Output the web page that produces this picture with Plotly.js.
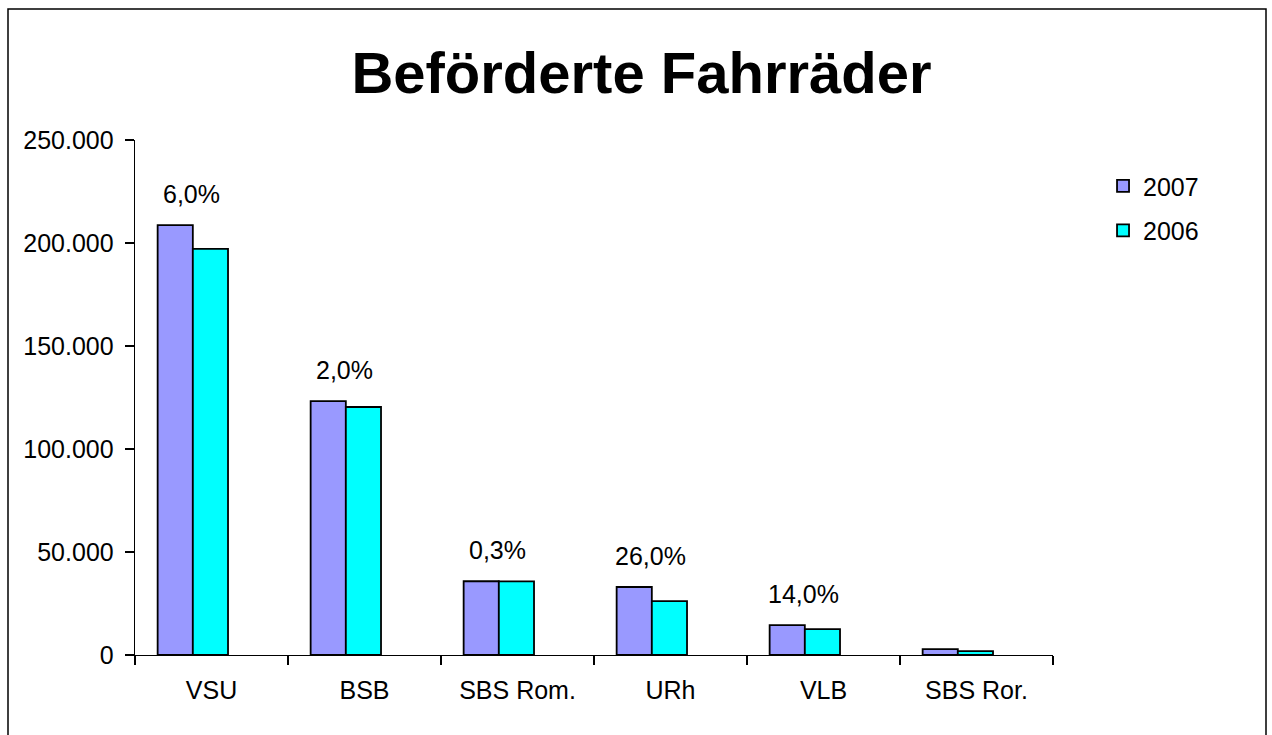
<!DOCTYPE html>
<html>
<head>
<meta charset="utf-8">
<script src="https://cdn.plot.ly/plotly-3.0.1.min.js"></script>
<style>
  html, body { margin: 0; padding: 0; background: #ffffff; }
  #chart { width: 1272px; height: 735px; }
</style>
</head>
<body>
<div id="chart"></div>
<script>
const categories = ["VSU", "BSB", "SBS Rom.", "URh", "VLB", "SBS Ror."];
const values2007 = [208700, 123200, 35800, 33000, 14500, 2900];
const values2006 = [197100, 120400, 35700, 26200, 12600, 1900];
const changeLabels = ["6,0%", "2,0%", "0,3%", "26,0%", "14,0%", null];
const yTickVals = [0, 50000, 100000, 150000, 200000, 250000];

const font = "Liberation Sans, Arial, sans-serif";

const traces = [
  {
    type: "bar", name: "2007", x: categories, y: values2007,
    marker: { color: "#9999FF", line: { color: "#000000", width: 1.8 } },
    width: 0.23, offset: -0.352, legendgroup: "a"
  },
  {
    type: "bar", name: "2006", x: categories, y: values2006,
    marker: { color: "#00FFFF", line: { color: "#000000", width: 1.8 } },
    width: 0.23, offset: -0.122, legendgroup: "b"
  }
];

const annotations = [];
categories.forEach((c, i) => {
  if (changeLabels[i] === null) return;
  annotations.push({
    x: c, y: Math.max(values2007[i], values2006[i]),
    xref: "x", yref: "y",
    text: changeLabels[i], showarrow: false,
    xanchor: "center", yanchor: "middle",
    xshift: -20, yshift: 31,
    font: { family: font, size: 25, color: "#000000" }
  });
});

const layout = {
  width: 1272, height: 735,
  margin: { l: 135, r: 219, t: 140, b: 80, pad: 0 },
  paper_bgcolor: "#ffffff", plot_bgcolor: "#ffffff",
  separators: ",.",
  font: { family: font, size: 25, color: "#000000" },
  title: {
    text: "<b>Beförderte Fahrräder</b>",
    font: { family: font, size: 58, color: "#000000" },
    x: 0.5043, xref: "container", xanchor: "center",
    y: 0.9007, yref: "container", yanchor: "middle"
  },
  showlegend: true,
  legend: {
    x: 1.0545, xanchor: "left", y: 0.955, yanchor: "top",
    traceorder: "grouped", tracegroupgap: 9,
    font: { family: font, size: 25, color: "#000000" },
    bgcolor: "rgba(0,0,0,0)"
  },
  bargap: 0.31,
  xaxis: {
    type: "category",
    showline: true, linecolor: "#000000", linewidth: 1.3,
    ticks: "outside", tickson: "boundaries", ticklen: 9, tickcolor: "#000000", tickwidth: 1.3,
    ticklabelstandoff: 13,
    showgrid: false, zeroline: false,
    tickfont: { family: font, size: 25, color: "#000000" }
  },
  yaxis: {
    range: [0, 250000], tickvals: yTickVals, tickformat: ",d",
    showline: true, linecolor: "#000000", linewidth: 1.3,
    ticks: "outside", ticklen: 9, tickcolor: "#000000", tickwidth: 1.3,
    ticklabelstandoff: 6,
    showgrid: false, zeroline: false,
    tickfont: { family: font, size: 25, color: "#000000" }
  },
  annotations: annotations,
  shapes: [{
    type: "rect", xref: "paper", yref: "paper",
    x0: (8 - 135) / 918, x1: (1266 - 135) / 918,
    y0: (655 - 745) / 515, y1: (655 - 9) / 515,
    line: { color: "#000000", width: 1.5 }, fillcolor: "rgba(0,0,0,0)", layer: "below"
  }]
};

Plotly.newPlot("chart", traces, layout, { displayModeBar: false, staticPlot: true });
</script>
</body>
</html>
